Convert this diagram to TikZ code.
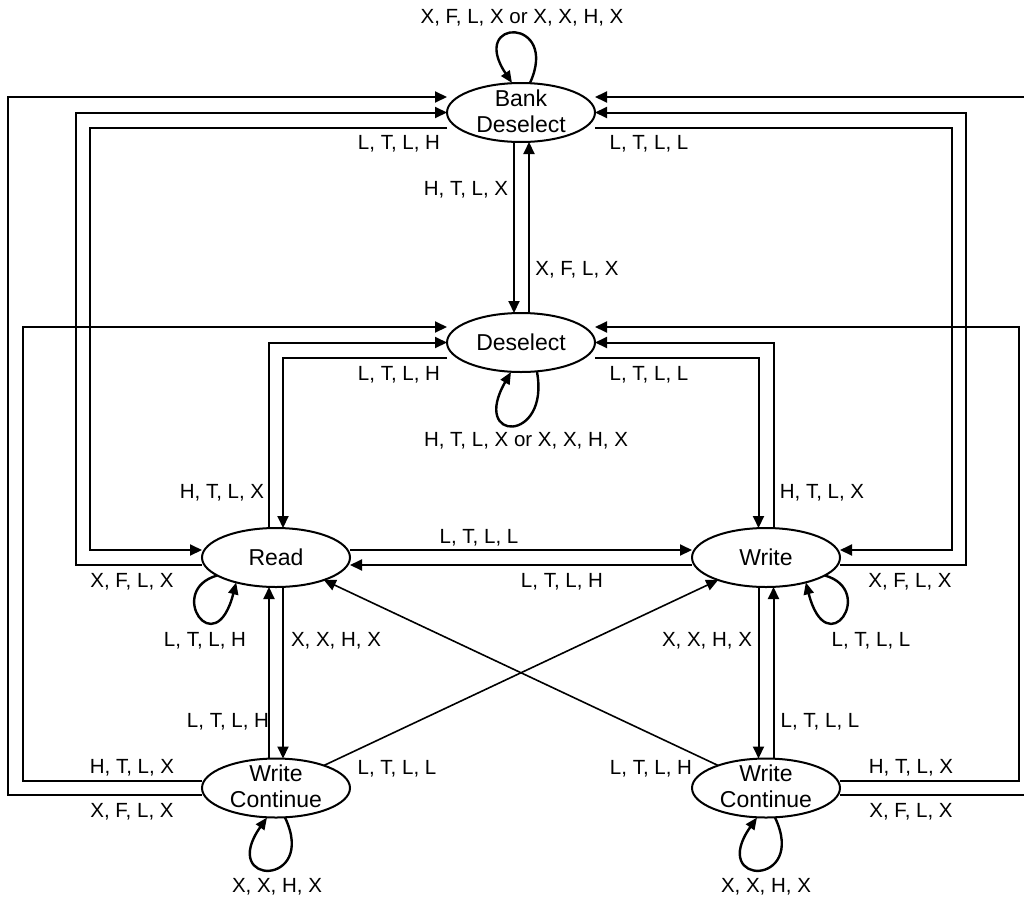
\documentclass[tikz,border=0pt]{standalone}
\usepackage{fontspec}
\setmainfont{Liberation Sans}
\usetikzlibrary{arrows.meta,shapes.geometric}
\newcommand{\oneline}[1]{\smash{\raisebox{-8pt}{\makebox[0pt]{#1}}}}
\newcommand{\twoline}[2]{\smash{\raisebox{6.5pt}{\makebox[0pt]{#1}}\raisebox{-19.5pt}{\makebox[0pt]{#2}}}}
\tikzset{
  st/.style={draw, ellipse, line width=2pt, minimum width=148pt, minimum height=59pt,
    inner sep=0pt, outer sep=0pt, font=\fontsize{23}{27}\selectfont},
  arr/.style={line width=2pt, -{Triangle[length=12pt,width=11pt]}},
  darr/.style={line width=1.6pt, -{Triangle[length=12pt,width=11pt]}},
  lp/.style={line width=2.4pt, -{Triangle[length=12pt,width=10pt]}},
  lbl/.style={inner sep=0pt, text height=14.5pt, text depth=0pt, font=\fontsize{20.5}{24}\selectfont},
}
\begin{document}
\begin{tikzpicture}[x=1pt,y=-1pt]
\useasboundingbox (0,0) rectangle (1024,899);
% states
\node[st] (bd)  at (521,112.5) {\twoline{Bank}{Deselect}};
\node[st] (ds)  at (521,342.5) {\oneline{Deselect}};
\node[st] (rd)  at (276,557.5) {\oneline{Read}};
\node[st] (wr)  at (766,557.5) {\oneline{Write}};
\node[st] (wcl) at (276,788)   {\twoline{Write}{Continue}};
\node[st] (wcr) at (766,788)   {\twoline{Write}{Continue}};
% bank deselect <-> deselect
\draw[arr] ([xshift=-7pt]bd.south) -- ([xshift=-7pt]ds.north);
\draw[arr] ([xshift=8pt]ds.north) -- ([xshift=8pt]bd.south);
% left side connectors to bank deselect
\draw[arr] ([yshift=-7pt]wcl.west) -| (8,97) -- ([yshift=15.5pt]bd.west);
\draw[arr] ([yshift=-7.5pt]rd.west) -| (76,112.5) -- (bd.west);
\draw[arr] ([yshift=-15.5pt]bd.west) -| (90,550) -- ([yshift=7.5pt]rd.west);
% right side connectors to bank deselect
\draw[arr] ([yshift=-7pt]wcr.east) -| (1034,97) -- ([yshift=15.5pt]bd.east);
\draw[arr] ([yshift=-7.5pt]wr.east) -| (966,112.5) -- (bd.east);
\draw[arr] ([yshift=-15.5pt]bd.east) -| (952,550) -- ([yshift=7.5pt]wr.east);
% deselect connectors
\draw[arr] ([yshift=7pt]wcl.west) -| (23,327) -- ([yshift=15.5pt]ds.west);
\draw[arr] ([xshift=-7pt]rd.north) |- (ds.west);
\draw[arr] ([yshift=-15pt]ds.west) -| ([xshift=7pt]rd.north);
\draw[arr] ([yshift=7pt]wcr.east) -| (1019,327) -- ([yshift=15.5pt]ds.east);
\draw[arr] ([xshift=7.5pt]wr.north) |- (ds.east);
\draw[arr] ([yshift=-15pt]ds.east) -| ([xshift=-7.5pt]wr.north);
% read <-> write
\draw[arr] ([yshift=7.5pt]rd.east) -- ([yshift=7.5pt]wr.west);
\draw[arr] ([yshift=-7.5pt]wr.west) -- ([yshift=-7.5pt]rd.east);
% read <-> write continue (left)
\draw[arr] ([xshift=-7pt]wcl.north) -- ([xshift=-7pt]rd.south);
\draw[arr] ([xshift=7pt]rd.south) -- ([xshift=7pt]wcl.north);
% write <-> write continue (right)
\draw[arr] ([xshift=-7.5pt]wr.south) -- ([xshift=-7.5pt]wcr.north);
\draw[arr] ([xshift=7.5pt]wcr.north) -- ([xshift=7.5pt]wr.south);
% diagonals
\draw[darr] (wcl) -- (wr);
\draw[darr] (wcr) -- (rd);
% self loops
\draw[lp] ([xshift=9pt]bd.north) .. controls (560,17) and (468,17) .. ([xshift=-9pt]bd.north);
\draw[lp] ([xshift=16pt]ds.south) .. controls (550,443) and (470,443) .. ([xshift=-10pt]ds.south);
\draw[lp] (rd.197) .. controls (165,590) and (215,665) .. (rd.212);
\draw[lp] (wr.343) .. controls (877,590) and (827,665) .. (wr.328);
\draw[lp] ([xshift=9pt]wcl.south) .. controls (318,887) and (218,887) .. ([xshift=-9pt]wcl.south);
\draw[lp] ([xshift=9pt]wcr.south) .. controls (808,887) and (708,887) .. ([xshift=-9pt]wcr.south);
% labels
\node[lbl] (l1)  at (522,16)  {X, F, L, X or X, X, H, X};
\node[lbl] (l2)  at (399,142) {L, T, L, H};
\node[lbl] (l3)  at (649,142) {L, T, L, L};
\node[lbl] (l4)  at (466,188) {H, T, L, X};
\node[lbl] (l5)  at (577,268) {X, F, L, X};
\node[lbl] (l6)  at (399,373) {L, T, L, H};
\node[lbl] (l7)  at (649,373) {L, T, L, L};
\node[lbl] (l8)  at (526,439) {H, T, L, X or X, X, H, X};
\node[lbl] (l9)  at (222,491) {H, T, L, X};
\node[lbl] (l10) at (822,491) {H, T, L, X};
\node[lbl] (l11) at (479,536) {L, T, L, L};
\node[lbl] (l12) at (562,580) {L, T, L, H};
\node[lbl] (l13) at (132,580) {X, F, L, X};
\node[lbl] (l14) at (910,580) {X, F, L, X};
\node[lbl] (l15) at (205,639) {L, T, L, H};
\node[lbl] (l16) at (336,639) {X, X, H, X};
\node[lbl] (l17) at (707,639) {X, X, H, X};
\node[lbl] (l18) at (871,639) {L, T, L, L};
\node[lbl] (l19) at (228,720) {L, T, L, H};
\node[lbl] (l20) at (820,720) {L, T, L, L};
\node[lbl] (l21) at (132,766) {H, T, L, X};
\node[lbl] (l22) at (132,810) {X, F, L, X};
\node[lbl] (l23) at (397,767) {L, T, L, L};
\node[lbl] (l24) at (651,767) {L, T, L, H};
\node[lbl] (l25) at (911,766) {H, T, L, X};
\node[lbl] (l26) at (911,810) {X, F, L, X};
\node[lbl] (l27) at (277,885) {X, X, H, X};
\node[lbl] (l28) at (766,885) {X, X, H, X};
\end{tikzpicture}
\end{document}
